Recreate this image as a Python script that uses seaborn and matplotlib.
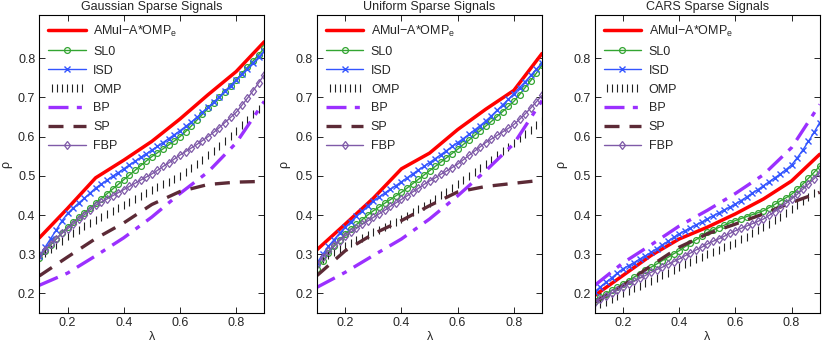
import numpy as np
import pandas as pd
import seaborn as sns
import matplotlib
matplotlib.use("Agg")
import matplotlib.pyplot as plt
from matplotlib.legend_handler import HandlerLine2D

# x grids
lam_coarse = [0.1, 0.2, 0.3, 0.4, 0.5, 0.6, 0.7, 0.8, 0.9]
lam_fine = [0.10, 0.12, 0.14, 0.16, 0.18, 0.20, 0.22, 0.24, 0.26, 0.28,
            0.30, 0.32, 0.34, 0.36, 0.38, 0.40, 0.42, 0.44, 0.46, 0.48,
            0.50, 0.52, 0.54, 0.56, 0.58, 0.60, 0.62, 0.64, 0.66, 0.68,
            0.70, 0.72, 0.74, 0.76, 0.78, 0.80, 0.82, 0.84, 0.86, 0.88, 0.90]

titles = ["Gaussian Sparse Signals", "Uniform Sparse Signals", "CARS Sparse Signals"]

# ---- Gaussian ----
gauss_amul = [0.342, 0.417, 0.495, 0.540, 0.588, 0.645, 0.707, 0.766, 0.842]
gauss_bp = [0.221, 0.252, 0.296, 0.342, 0.395, 0.455, 0.510, 0.584, 0.690]
gauss_sp = [0.245, 0.293, 0.340, 0.380, 0.427, 0.460, 0.478, 0.484, 0.486]
gauss_isd = [0.295, 0.318, 0.340, 0.362, 0.385, 0.404, 0.418, 0.431, 0.443, 0.456,
             0.469, 0.479, 0.489, 0.499, 0.508, 0.518, 0.528, 0.537, 0.547, 0.556,
             0.566, 0.575, 0.585, 0.595, 0.605, 0.615, 0.626, 0.637, 0.649, 0.662,
             0.675, 0.688, 0.702, 0.716, 0.730, 0.745, 0.759, 0.773, 0.788, 0.803, 0.818]
gauss_sl0 = [0.290, 0.308, 0.324, 0.339, 0.355, 0.370, 0.382, 0.394, 0.406, 0.418,
             0.430, 0.442, 0.454, 0.466, 0.478, 0.490, 0.502, 0.514, 0.526, 0.538,
             0.549, 0.559, 0.569, 0.579, 0.589, 0.600, 0.613, 0.627, 0.642, 0.657,
             0.672, 0.686, 0.701, 0.715, 0.730, 0.745, 0.761, 0.777, 0.793, 0.809, 0.826]
gauss_fbp = [0.297, 0.312, 0.326, 0.340, 0.353, 0.365, 0.377, 0.389, 0.401, 0.413,
             0.425, 0.433, 0.441, 0.449, 0.457, 0.465, 0.473, 0.481, 0.489, 0.497,
             0.505, 0.514, 0.524, 0.533, 0.543, 0.553, 0.562, 0.571, 0.580, 0.590,
             0.600, 0.611, 0.623, 0.636, 0.649, 0.662, 0.680, 0.698, 0.717, 0.737, 0.758]
gauss_omp = [0.290, 0.302, 0.313, 0.324, 0.335, 0.346, 0.355, 0.363, 0.372, 0.380,
             0.388, 0.396, 0.403, 0.411, 0.418, 0.426, 0.434, 0.441, 0.449, 0.456,
             0.464, 0.471, 0.478, 0.485, 0.492, 0.500, 0.510, 0.520, 0.531, 0.541,
             0.552, 0.564, 0.577, 0.589, 0.602, 0.615, 0.629, 0.643, 0.657, 0.671, 0.685]

# ---- Uniform ----
unif_amul = [0.312, 0.377, 0.443, 0.518, 0.558, 0.618, 0.670, 0.718, 0.812]
unif_bp = [0.216, 0.254, 0.297, 0.339, 0.390, 0.449, 0.513, 0.582, 0.692]
unif_sp = [0.246, 0.309, 0.352, 0.386, 0.424, 0.459, 0.473, 0.481, 0.489]
unif_isd = [0.278, 0.300, 0.320, 0.337, 0.354, 0.369, 0.383, 0.397, 0.410, 0.423,
            0.436, 0.446, 0.456, 0.466, 0.475, 0.485, 0.495, 0.505, 0.515, 0.524,
            0.534, 0.544, 0.554, 0.564, 0.575, 0.585, 0.595, 0.606, 0.617, 0.628,
            0.640, 0.653, 0.667, 0.681, 0.695, 0.710, 0.725, 0.740, 0.756, 0.772, 0.788]
unif_sl0 = [0.263, 0.283, 0.302, 0.320, 0.336, 0.352, 0.364, 0.376, 0.388, 0.400,
            0.411, 0.420, 0.430, 0.439, 0.449, 0.458, 0.469, 0.480, 0.491, 0.502,
            0.513, 0.524, 0.535, 0.546, 0.557, 0.568, 0.580, 0.591, 0.603, 0.615,
            0.627, 0.639, 0.651, 0.664, 0.677, 0.690, 0.707, 0.725, 0.743, 0.762, 0.782]
unif_fbp = [0.275, 0.292, 0.308, 0.323, 0.335, 0.347, 0.357, 0.366, 0.376, 0.385,
            0.394, 0.403, 0.412, 0.422, 0.431, 0.440, 0.449, 0.459, 0.468, 0.478,
            0.487, 0.495, 0.504, 0.512, 0.521, 0.530, 0.541, 0.552, 0.563, 0.574,
            0.585, 0.594, 0.603, 0.612, 0.621, 0.631, 0.644, 0.658, 0.673, 0.689, 0.705]
unif_omp = [0.280, 0.289, 0.297, 0.305, 0.314, 0.322, 0.329, 0.336, 0.342, 0.349,
            0.356, 0.363, 0.370, 0.376, 0.383, 0.390, 0.398, 0.407, 0.415, 0.424,
            0.432, 0.441, 0.451, 0.460, 0.470, 0.479, 0.489, 0.499, 0.510, 0.520,
            0.530, 0.541, 0.552, 0.563, 0.574, 0.585, 0.596, 0.607, 0.618, 0.629, 0.640]

# ---- CARS ----
cars_amul = [0.195, 0.246, 0.297, 0.339, 0.369, 0.403, 0.441, 0.487, 0.555]
cars_bp = [0.221, 0.278, 0.324, 0.372, 0.412, 0.455, 0.503, 0.572, 0.682]
cars_sp = [0.178, 0.220, 0.271, 0.318, 0.352, 0.377, 0.403, 0.432, 0.458]
cars_isd = [0.205, 0.217, 0.229, 0.240, 0.252, 0.263, 0.271, 0.279, 0.288, 0.296,
            0.305, 0.314, 0.324, 0.333, 0.343, 0.352, 0.360, 0.367, 0.375, 0.382,
            0.390, 0.398, 0.405, 0.413, 0.420, 0.428, 0.437, 0.446, 0.456, 0.465,
            0.475, 0.485, 0.495, 0.505, 0.516, 0.528, 0.546, 0.566, 0.588, 0.611, 0.636]
cars_sl0 = [0.182, 0.191, 0.199, 0.208, 0.216, 0.225, 0.233, 0.242, 0.250, 0.259,
            0.267, 0.275, 0.284, 0.292, 0.301, 0.309, 0.319, 0.328, 0.337, 0.347,
            0.356, 0.362, 0.368, 0.374, 0.380, 0.386, 0.391, 0.396, 0.401, 0.406,
            0.411, 0.419, 0.427, 0.436, 0.444, 0.453, 0.466, 0.479, 0.494, 0.509, 0.525]
cars_fbp = [0.178, 0.186, 0.193, 0.201, 0.208, 0.216, 0.224, 0.231, 0.239, 0.246,
            0.254, 0.261, 0.267, 0.274, 0.281, 0.288, 0.296, 0.303, 0.311, 0.318,
            0.326, 0.333, 0.339, 0.346, 0.353, 0.360, 0.366, 0.372, 0.378, 0.384,
            0.390, 0.399, 0.409, 0.419, 0.430, 0.441, 0.453, 0.466, 0.479, 0.493, 0.508]
cars_omp = [0.165, 0.172, 0.179, 0.186, 0.193, 0.200, 0.207, 0.213, 0.220, 0.226,
            0.233, 0.240, 0.247, 0.253, 0.260, 0.267, 0.274, 0.281, 0.287, 0.294,
            0.301, 0.307, 0.312, 0.318, 0.324, 0.330, 0.338, 0.345, 0.353, 0.361,
            0.369, 0.378, 0.387, 0.396, 0.406, 0.415, 0.425, 0.435, 0.445, 0.456, 0.466]

panels = [
    (gauss_amul, gauss_sl0, gauss_isd, gauss_omp, gauss_bp, gauss_sp, gauss_fbp),
    (unif_amul, unif_sl0, unif_isd, unif_omp, unif_bp, unif_sp, unif_fbp),
    (cars_amul, cars_sl0, cars_isd, cars_omp, cars_bp, cars_sp, cars_fbp),
]

sns.set_style("ticks")
plt.rcParams["font.family"] = ["Liberation Sans", "DejaVu Sans"]
plt.rcParams["mathtext.fontset"] = "custom"
plt.rcParams["mathtext.rm"] = "Liberation Sans"
plt.rcParams["mathtext.it"] = "Liberation Sans"

c_red = "#ff0000"
c_green = "#33a532"
c_blue = "#3355ff"
c_bp = "#9b30ff"
c_sp = "#5c2a36"
c_fbp = "#7f5aa8"

fig, axes = plt.subplots(1, 3, figsize=(8.3, 3.51), dpi=100)
fig.subplots_adjust(left=0.0475, right=0.9876, top=0.957, bottom=0.108, wspace=0.235)

for ax, title, (amul, sl0, isd, omp, bp, sp, fbp) in zip(axes, titles, panels):
    sns.lineplot(x=lam_coarse, y=amul, ax=ax, color=c_red, linewidth=2.5,
                 label=r"AMul$-$A*OMP$_\mathrm{e}$")
    sns.lineplot(x=lam_fine, y=sl0, ax=ax, color=c_green, linewidth=1.0,
                 marker="o", markersize=4.2, markerfacecolor="none",
                 markeredgecolor=c_green, markeredgewidth=0.9, label="SL0")
    sns.lineplot(x=lam_fine, y=isd, ax=ax, color=c_blue, linewidth=1.0,
                 marker="x", markersize=4.5, markeredgecolor=c_blue,
                 markeredgewidth=1.0, label="ISD")
    sns.lineplot(x=lam_fine, y=omp, ax=ax, color="black", linestyle="",
                 marker="|", markersize=5.5, markeredgecolor="#222222",
                 markeredgewidth=0.8, label="OMP")
    sns.lineplot(x=lam_coarse, y=bp, ax=ax, color=c_bp, linewidth=2.4,
                 linestyle=(0, (6, 2.5, 1.5, 2.5)), label="BP")
    sns.lineplot(x=lam_coarse, y=sp, ax=ax, color=c_sp, linewidth=2.4,
                 linestyle=(0, (4.5, 3)), label="SP")
    sns.lineplot(x=lam_fine, y=fbp, ax=ax, color=c_fbp, linewidth=1.0,
                 marker="d", markersize=4.5, markerfacecolor="none",
                 markeredgecolor=c_fbp, markeredgewidth=0.9, label="FBP")

    ax.set_xlim(0.1, 0.9)
    ax.set_ylim(0.15, 0.91)
    ax.set_xticks([0.2, 0.4, 0.6, 0.8])
    ax.set_yticks([0.2, 0.3, 0.4, 0.5, 0.6, 0.7, 0.8])
    ax.set_xticklabels(["0.2", "0.4", "0.6", "0.8"])
    ax.set_yticklabels(["0.2", "0.3", "0.4", "0.5", "0.6", "0.7", "0.8"])
    ax.tick_params(direction="in", top=True, right=True, length=4, width=0.7,
                   labelsize=9, pad=3)
    for sp_ in ax.spines.values():
        sp_.set_visible(True)
        sp_.set_linewidth(0.8)
        sp_.set_color("black")
    ax.set_title(title, fontsize=9, pad=4)
    ax.set_xlabel("λ", fontsize=9, labelpad=1)
    ax.set_ylabel("ρ", fontsize=9, labelpad=4)

    handles, labels = ax.get_legend_handles_labels()
    hmap = {handles[3]: HandlerLine2D(numpoints=7)}
    ax.legend(handles, labels, loc="upper left", frameon=False, fontsize=9,
              handlelength=3.0, handletextpad=0.6, labelspacing=0.55,
              borderaxespad=0.3, numpoints=1, handler_map=hmap)

fig.savefig("out.png", dpi=100)
